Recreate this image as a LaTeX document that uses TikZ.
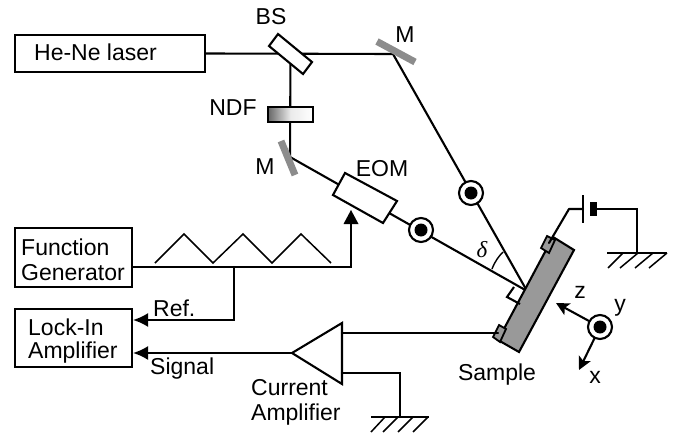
\documentclass[tikz,border=0pt]{standalone}
\usepackage{fontspec}
\setmainfont{Liberation Sans}
\usetikzlibrary{arrows.meta,calc}
\tikzset{
  wire/.style={line width=2.1pt,line cap=round,line join=round},
  thin wire/.style={line width=1.5pt,line join=miter},
  boxed/.style={draw,line width=2.1pt,fill=white,minimum width=0pt,anchor=center,inner sep=0pt},
  lbl/.style={inner sep=0pt,font=\fontsize{23}{26}\selectfont,anchor=center},
  lft/.style={inner sep=0pt,font=\fontsize{23}{26}\selectfont,anchor=west},
  arrowtip/.style={-{Latex[length=15pt,width=14pt]}},
  axis/.style={wire,-{Stealth[length=13pt,width=13pt,inset=3pt]}},
  mirror/.style={line width=7pt,draw=mirrorgray},
  targetdot/.style={circle,draw,line width=2.1pt,fill=white,minimum size=24pt,inner sep=0pt},
  coredot/.style={circle,fill=black,minimum size=13pt,inner sep=0pt},
}
\definecolor{mirrorgray}{gray}{0.55}
\definecolor{samplegray}{gray}{0.6}
\begin{document}
\begin{tikzpicture}[x=1pt,y=-1pt]
\useasboundingbox (0,0) rectangle (674,436);
% named points
\coordinate (m1hit) at (393,54);
\coordinate (m2hit) at (290,157);
\coordinate (spot) at (527,291);
\coordinate (bs) at (290.5,54);
% beams
\node[boxed,minimum width=190pt,minimum height=37pt] (laser) at (110,53.5) {};
\draw[wire] (laser.east) -- (m1hit);
\draw[wire] (bs) -- (m2hit);
\draw[wire] (m1hit) -- (spot);
\draw[wire] (m2hit) -- (spot);
\node[lbl] at (95.5,52) {He-Ne laser};
% BS
\draw[line width=2.1pt,fill=white,line join=miter] (278,34) -- (312,62) -- (303,74) -- (269,46) -- cycle;
\node[lbl] at (271,17) {BS};
% mirrors
\draw[mirror] (377,41.5) -- (415,62);
\node[lbl] at (405,35) {M};
\draw[mirror] (281,141) -- (295,175);
\node[lbl] at (265,167) {M};
% NDF
\node[draw,line width=2.1pt,minimum width=45pt,minimum height=15pt,inner sep=0pt,left color=black!60,right color=white,middle color=black!8] (ndf) at (290.5,114.5) {};
\node[lbl] at (233,108) {NDF};
% EOM
\draw[line width=2.1pt,fill=white,line join=miter] (345,173) -- (397,201) -- (383,223) -- (333,195) -- cycle;
\coordinate (eomin) at (351,212);
\node[lbl] at (382,169) {EOM};
% polarisation marks
\node[targetdot] (pa) at (421,230) {}; \node[coredot] at (pa) {};
\node[targetdot] (pb) at (471,193) {}; \node[coredot] at (pb) {};
% sample
\draw[line width=2.1pt,fill=samplegray,line join=miter] (553,237) -- (574,250) -- (519,352) -- (498,340) -- cycle;
\draw[line width=1.8pt,fill=samplegray,line join=miter] (547,236) -- (555,240) -- (549,253) -- (541,248) -- cycle;
\draw[line width=1.8pt,fill=samplegray,line join=miter] (499,325) -- (506,329) -- (500,342) -- (493,337) -- cycle;
\node[lbl] at (497,375) {Sample};
\draw[wire,line cap=butt,line join=miter] (514,287) -- (507,297) -- (520,304);
\draw[line width=1.4pt] (492,269) .. controls (495,261) and (499,256) .. (503,252);
\node[lbl] at (482,250) {\fontspec{Liberation Serif}\itshape δ};
% battery
\coordinate (bat) at (569,209);
\draw[wire] (549,243) -- (bat) -- (583,209);
\draw[wire,line cap=butt] (583,195) -- (583,223);
\draw[line width=7pt] (593,202) -- (593,216);
\draw[wire,line join=miter] (596,209) -- (637,209) -- (637,253);
\draw[wire,line cap=butt] (607,253) -- (667,253);
\foreach \a/\b in {608/623,620/638,635/653,649/667} \draw[thin wire] (\a,268) -- (\b,253);
% axes
\node[targetdot] (ax) at (600,327) {}; \node[coredot] at (ax) {};
\coordinate (zt) at (556,303); \coordinate (xt) at (579,370);
\draw[axis] (ax) -- (zt);
\draw[axis] (ax) -- (xt);
\node[lbl] at (580,292) {z};
\node[lbl] at (620,308) {y};
\node[lbl] at (595,377) {x};
% function generator
\node[boxed,minimum width=117pt,minimum height=59pt] (fg) at (73.5,257.5) {};
\node[lft] at (21,247) {Function};
\node[lft] at (21,273) {Generator};
\node[boxed,minimum width=117pt,minimum height=58pt] (li) at (73.5,338) {};
\node[lft] at (28,327) {Lock-In};
\node[lft] at (28,353) {Amplifier};
\coordinate (fgout) at (132,267);
\coordinate (liref) at (133,320);
\coordinate (lisig) at (133,353);
\coordinate (junc) at (234,267);
\draw[wire,line join=miter] (fgout) -- (351,267) -- (351,224);
\fill (351,210) -- (358.5,224) -- (343.5,224) -- cycle;
\draw[wire,arrowtip,line join=miter] (junc) -- (234,320) -- (liref);
\draw[thin wire] (155,263) -- (184,234) -- (213,263) -- (243,234) -- (272,263) -- (301,234) -- (331,263);
\node[lft] at (153,308) {Ref.};
\node[lft] at (150,369) {Signal};
% current amplifier
\draw[line width=2.1pt,fill=white,line join=miter] (292,353) -- (342,323) -- (342,384) -- cycle;
\coordinate (ampin) at (292,353);
\draw[wire,arrowtip] (ampin) -- (lisig);
\draw[wire] (342,333) -- (498,333);
\draw[wire,line join=miter] (342,373) -- (400,373) -- (400,417);
\draw[wire,line cap=butt] (371,417) -- (429,417);
\foreach \a/\b in {371/385,383/398,398/413,413/428} \draw[thin wire] (\a,432) -- (\b,417);
\node[lft] at (251,388) {Current};
\node[lft] at (251,415) {Amplifier};
\end{tikzpicture}
\end{document}
